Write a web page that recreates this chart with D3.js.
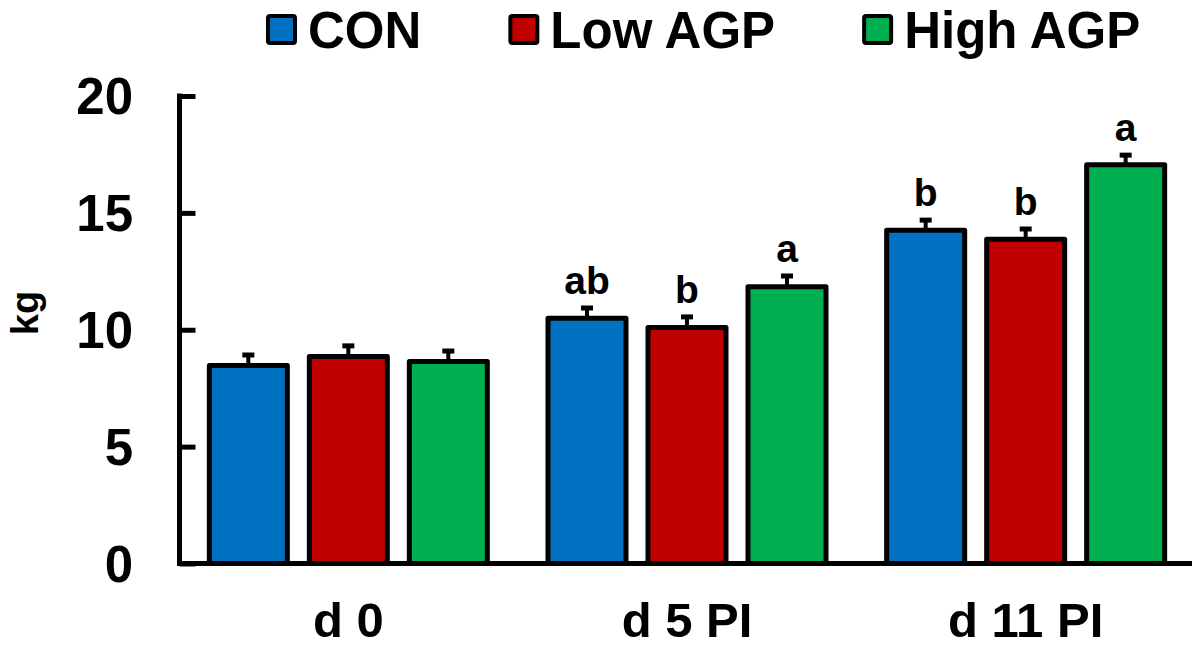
<!DOCTYPE html>
<html>
<head>
<meta charset="utf-8">
<script src="https://cdn.jsdelivr.net/npm/d3@7"></script>
<style>
  body { margin: 0; background: #fff; }
  svg { display: block; font-family: Arial, "Liberation Sans", sans-serif; font-weight: bold; }
</style>
</head>
<body>
<div id="chart"></div>
<script>
// data
var days = ["d 0", "d 5 PI", "d 11 PI"];
var groups = ["CON", "Low AGP", "High AGP"];
var colors = ["#0070C0", "#C00000", "#00B050"];
var conMean = [8.47, 10.49, 14.26];
var lowMean = [8.86, 10.10, 13.87];
var highMean = [8.64, 11.84, 17.06];
var conErr = [0.45, 0.44, 0.43];
var lowErr = [0.45, 0.45, 0.44];
var highErr = [0.45, 0.46, 0.41];
var conLetters = ["", "ab", "b"];
var lowLetters = ["", "b", "b"];
var highLetters = ["", "a", "a"];
var yTicks = [0, 5, 10, 15, 20];

var width = 1192, height = 649;
var svg = d3.select("#chart").append("svg")
    .attr("width", width)
    .attr("height", height);

var y = d3.scaleLinear().domain([0, 20]).range([563.5, 96]);
var x0 = d3.scaleBand().domain(days).range([179, 1195]);
var x1 = d3.scaleBand().domain(groups).range([-150, 150])
    .paddingInner(0.22).paddingOuter(0.11);

var means = [conMean, lowMean, highMean];
var errs = [conErr, lowErr, highErr];
var letters = [conLetters, lowLetters, highLetters];

var rows = [];
days.forEach(function (d, i) {
    groups.forEach(function (g, j) {
        rows.push({day: d, group: g, color: colors[j], v: means[j][i], e: errs[j][i], l: letters[j][i]});
    });
});

function cx(r) { return x0(r.day) + x0.bandwidth() / 2 + x1(r.group) + x1.bandwidth() / 2; }

// error bars (behind bars)
var eb = svg.append("g").attr("stroke", "#000");
eb.selectAll("line.v").data(rows).enter().append("line")
    .attr("x1", cx).attr("x2", cx)
    .attr("y1", function (r) { return y(r.v); })
    .attr("y2", function (r) { return y(r.v + r.e); })
    .attr("stroke-width", 4);
eb.selectAll("line.c").data(rows).enter().append("line")
    .attr("x1", function (r) { return cx(r) - 6; })
    .attr("x2", function (r) { return cx(r) + 6; })
    .attr("y1", function (r) { return y(r.v + r.e); })
    .attr("y2", function (r) { return y(r.v + r.e); })
    .attr("stroke-width", 5);

// bars
svg.append("g").selectAll("rect").data(rows).enter().append("rect")
    .attr("x", function (r) { return cx(r) - x1.bandwidth() / 2; })
    .attr("y", function (r) { return y(r.v); })
    .attr("width", x1.bandwidth())
    .attr("height", function (r) { return y(0) - y(r.v); })
    .attr("fill", function (r) { return r.color; })
    .attr("stroke", "#000")
    .attr("stroke-width", 5)
    .attr("stroke-linejoin", "round");

// significance letters
svg.append("g").selectAll("text").data(rows.filter(function (r) { return r.l; })).enter().append("text")
    .attr("x", cx)
    .attr("y", function (r) { return y(r.v + r.e) - 14; })
    .attr("text-anchor", "middle")
    .attr("font-size", 39)
    .text(function (r) { return r.l; });

// y axis
var yAxis = svg.append("g").attr("transform", "translate(179.5,0)")
    .call(d3.axisRight(y).tickValues(yTicks).tickSize(16).tickFormat(""));
yAxis.select(".domain").remove();
yAxis.selectAll(".tick line").attr("stroke", "#000").attr("stroke-width", 5);
svg.append("line")
    .attr("x1", 179.5).attr("x2", 179.5)
    .attr("y1", y(20) - 2.5).attr("y2", y(0) + 2.5)
    .attr("stroke", "#000").attr("stroke-width", 5);

svg.append("g").selectAll("text").data(yTicks).enter().append("text")
    .attr("x", 133)
    .attr("y", function (d) { return y(d) + 18; })
    .attr("text-anchor", "end")
    .attr("font-size", 51)
    .text(function (d) { return d; });

// x axis
var xAxis = svg.append("g").attr("transform", "translate(0,563.5)")
    .call(d3.axisBottom(x0).tickSize(0).tickPadding(0));
xAxis.select(".domain").remove();
xAxis.selectAll("text").remove();
svg.append("line")
    .attr("x1", 177).attr("x2", width)
    .attr("y1", y(0)).attr("y2", y(0))
    .attr("stroke", "#000").attr("stroke-width", 5);
svg.append("g").selectAll("text").data(days).enter().append("text")
    .attr("x", function (d) { return x0(d) + x0.bandwidth() / 2; })
    .attr("y", 637)
    .attr("text-anchor", "middle")
    .attr("font-size", 49)
    .text(function (d) { return d; });

// y label
svg.append("text")
    .attr("transform", "translate(38,313) rotate(-90)")
    .attr("text-anchor", "middle")
    .attr("font-size", 38)
    .text("kg");

// legend
var lx = 266;
groups.forEach(function (g, j) {
    svg.append("rect")
        .attr("x", lx + 2).attr("y", 16)
        .attr("width", 27).attr("height", 27)
        .attr("fill", colors[j])
        .attr("stroke", "#000").attr("stroke-width", 4)
        .attr("rx", 2);
    var t = svg.append("text")
        .attr("x", lx + 42).attr("y", 48)
        .attr("font-size", 51)
        .text(g);
    lx = lx + 42 + t.node().getComputedTextLength() + 87;
});
</script>
</body>
</html>
